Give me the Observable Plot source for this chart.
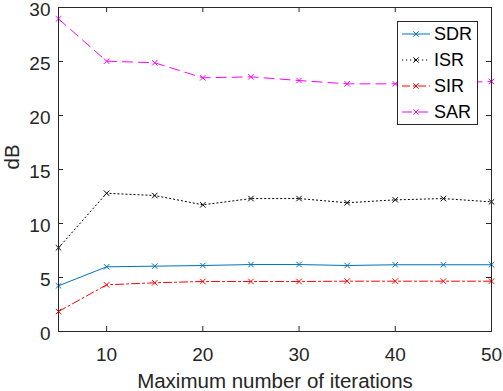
<!DOCTYPE html>
<html><head><meta charset="utf-8">
<script src="https://cdn.jsdelivr.net/npm/d3@7"></script>
<script src="https://cdn.jsdelivr.net/npm/@observablehq/plot@0.6"></script>
<style>
body{margin:0;background:#fff;font-family:"Liberation Sans",Arial,sans-serif;}
#wrap{position:relative;width:503px;height:391px;overflow:hidden;}
#legend{position:absolute;left:397px;top:21px;}
</style></head><body><div id="wrap"></div>
<script>
// ---- data ----
const iterations = [5, 10, 15, 20, 25, 30, 35, 40, 45, 50];
const sdr = [4.23, 5.99, 6.05, 6.11, 6.2, 6.2, 6.11, 6.18, 6.18, 6.18];
const isr = [7.75, 12.8, 12.59, 11.73, 12.31, 12.31, 11.92, 12.19, 12.31, 12.0];
const sir = [1.85, 4.32, 4.51, 4.63, 4.63, 4.63, 4.66, 4.66, 4.66, 4.66];
const sar = [28.95, 25.03, 24.88, 23.49, 23.58, 23.24, 22.93, 22.93, 23.0, 23.15];
const seriesNames = ["SDR", "ISR", "SIR", "SAR"];
const xTicks = [10, 20, 30, 40, 50];
const yTicks = [0, 5, 10, 15, 20, 25, 30];
const xLabel = "Maximum number of iterations";
const yLabel = "dB";

// ---- styles ----
const seriesValues = [sdr, isr, sir, sar];
const seriesColors = ["#0072BD", "#000000", "#FF0000", "#FF00FF"];
const seriesDash = [null, "1.2,2.8", "8,3,2,3", "10,6"];
const axisColor = "#262626";
const W = 503, H = 391;
const mL = 58, mR = 12, mT = 7, mB = 60;
const plotW = W - mL - mR, plotH = H - mT - mB;
const tickLen = 5;

const rows = [];
seriesNames.forEach((s, i) => iterations.forEach((it, j) => rows.push({series: s, x: it, y: seriesValues[i][j]})));

const marks = [];
seriesNames.forEach((s, i) => {
  const data = rows.filter(r => r.series === s);
  marks.push(Plot.line(data, {x: "x", y: "y", stroke: seriesColors[i], strokeWidth: 1, strokeDasharray: seriesDash[i]}));
});
seriesNames.forEach((s, i) => {
  const data = rows.filter(r => r.series === s);
  marks.push(Plot.dot(data, {x: "x", y: "y", symbol: "times", r: 2.6, stroke: seriesColors[i], strokeWidth: 1}));
});

// inward ticks on all four sides
marks.push(Plot.tickX(xTicks, {x: d => d, stroke: axisColor, insetTop: plotH - tickLen}));
marks.push(Plot.tickX(xTicks, {x: d => d, stroke: axisColor, insetBottom: plotH - tickLen}));
marks.push(Plot.tickY(yTicks, {y: d => d, stroke: axisColor, insetRight: plotW - tickLen}));
marks.push(Plot.tickY(yTicks, {y: d => d, stroke: axisColor, insetLeft: plotW - tickLen}));
marks.push(Plot.frame({stroke: axisColor, strokeWidth: 1}));
marks.push(Plot.axisX(xTicks, {tickSize: 0, tickPadding: 16, fontSize: 19, fill: axisColor, label: null}));
marks.push(Plot.axisY(yTicks, {tickSize: 0, tickPadding: 8, dy: 2, fontSize: 19, fill: axisColor, label: null}));
marks.push(Plot.text([xLabel], {frameAnchor: "bottom", dy: 56, lineAnchor: "bottom", fontSize: 20.5, fill: axisColor, text: d => d}));
marks.push(Plot.text([yLabel], {frameAnchor: "left", dx: -40, rotate: -90, lineAnchor: "bottom", fontSize: 20.5, fill: axisColor, text: d => d}));

const chart = Plot.plot({
  width: W, height: H,
  marginLeft: mL, marginRight: mR, marginTop: mT, marginBottom: mB,
  style: {fontFamily: '"Liberation Sans", Arial, sans-serif', background: "#fff", overflow: "visible"},
  x: {domain: [5, 50]},
  y: {domain: [0, 30]},
  marks
});
document.getElementById("wrap").appendChild(chart);

// ---- legend ----
const lw = 81, lh = 104;
const leg = d3.select("#wrap").append("svg").attr("id", "legend").attr("width", lw).attr("height", lh);
leg.append("rect").attr("x", 0.5).attr("y", 0.5).attr("width", lw - 1).attr("height", lh - 1)
  .attr("fill", "#fff").attr("stroke", axisColor);
seriesNames.forEach((s, i) => {
  const cy = 13 + i * 26;
  const g = leg.append("g").attr("transform", `translate(0,${cy})`);
  g.append("line").attr("x1", 5).attr("x2", 33).attr("y1", 0).attr("y2", 0)
    .attr("stroke", seriesColors[i]).attr("stroke-width", 1).attr("stroke-dasharray", seriesDash[i]);
  g.append("path").attr("d", "M16.3,-2.7L21.7,2.7M16.3,2.7L21.7,-2.7").attr("stroke", seriesColors[i]).attr("fill", "none");
  g.append("text").attr("x", 37).attr("y", 0).attr("dy", "0.36em").attr("font-size", 18)
    .attr("fill", "#000").attr("font-family", '"Liberation Sans", Arial, sans-serif').text(s);
});
</script>
</body></html>
